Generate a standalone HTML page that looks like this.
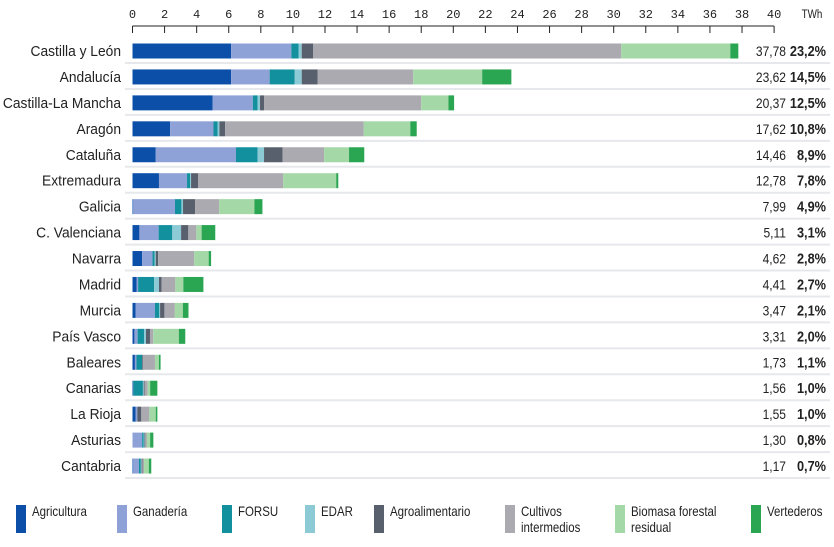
<!DOCTYPE html>
<html><head><meta charset="utf-8"><style>
body{margin:0;background:#fff;width:834px;height:547px;overflow:hidden;font-family:"Liberation Sans",sans-serif;}
svg{display:block}
</style></head><body>
<svg id="chart" width="834" height="547" xmlns="http://www.w3.org/2000/svg"></svg>
<script>
const regions=["Castilla y León","Andalucía","Castilla-La Mancha","Aragón","Cataluña","Extremadura","Galicia","C. Valenciana","Navarra","Madrid","Murcia","País Vasco","Baleares","Canarias","La Rioja","Asturias","Cantabria"];
const totals=["37,78","23,62","20,37","17,62","14,46","12,78","7,99","5,11","4,62","4,41","3,47","3,31","1,73","1,56","1,55","1,30","1,17"];
const shares=["23,2%","14,5%","12,5%","10,8%","8,9%","7,8%","4,9%","3,1%","2,8%","2,7%","2,1%","2,0%","1,1%","1,0%","1,0%","0,8%","0,7%"];
const seriesNames=["Agricultura","Ganadería","FORSU","EDAR","Agroalimentario","Cultivos intermedios","Biomasa forestal residual","Vertederos"];
const agricultura=[6.15,6.15,5.0,2.35,1.45,1.65,0.05,0.43,0.6,0.25,0.2,0.12,0.15,0.05,0.2,0,0.05];
const ganaderia=[3.75,2.4,2.5,2.7,5.0,1.75,2.6,1.2,0.65,0.1,1.2,0.2,0.1,0,0.1,0.6,0.35];
const forsu=[0.45,1.55,0.3,0.25,1.35,0.2,0.4,0.85,0.12,1.0,0.27,0.4,0.35,0.6,0,0.1,0.12];
const edar=[0.2,0.45,0.15,0.12,0.4,0.05,0.1,0.55,0.08,0.3,0.05,0.12,0,0.05,0,0.05,0.05];
const agroalimentario=[0.72,1.0,0.25,0.35,1.15,0.45,0.75,0.45,0.15,0.17,0.27,0.25,0.05,0.05,0.25,0.05,0.05];
const cultivos=[19.2,5.95,9.8,8.65,2.6,5.3,1.5,0.5,2.25,0.85,0.65,0.2,0.75,0.2,0.5,0.1,0.1];
const biomasa=[6.8,4.3,1.7,2.9,1.55,3.3,2.2,0.33,0.9,0.5,0.5,1.6,0.25,0.15,0.4,0.2,0.3];
const vertederos=[0.5,1.82,0.35,0.4,0.95,0.13,0.5,0.85,0.15,1.25,0.35,0.4,0.1,0.45,0.1,0.2,0.15];
const ticks=[0,2,4,6,8,10,12,14,16,18,20,22,24,26,28,30,32,34,36,38,40];
const colors=["#0b4fa8","#8fa2d8","#12909d","#8ccad6","#59606d","#aaaab0","#a4d8a6","#2aa552"];
const series=[agricultura,ganaderia,forsu,edar,agroalimentario,cultivos,biomasa,vertederos];

const NS="http://www.w3.org/2000/svg";
const svg=document.getElementById('chart');
const x0=132.5,pxu=16.04,row0=51,rowH=25.94,barH=15;
const xs=v=>x0+v*pxu;
const ys=i=>row0+i*rowH;
function mk(tag,attrs,parent){const e=document.createElementNS(NS,tag);for(const k in attrs)e.setAttribute(k,attrs[k]);(parent||svg).appendChild(e);return e;}
function ctext(x,y,str,attrs,parent,sx){
  const g=mk('g',{transform:`translate(${x},${y}) scale(${sx||0.82},1)`},parent);
  const t=mk('text',Object.assign({x:0,y:0,fill:'#222'},attrs),g);
  t.textContent=str;
  return g;
}

const axis=mk('g',{});


mk('line',{x1:xs(0),x2:xs(40),y1:26,y2:26,stroke:'#222','stroke-width':1},axis);
ticks.forEach(t=>{
  const tk=mk('line',{x1:xs(t),x2:xs(t),y1:26,y2:33,stroke:'#222','stroke-width':1},axis);
  
  
  const tl=mk('text',{x:xs(t),y:18,'text-anchor':'middle','font-family':'"Liberation Mono",monospace','font-size':12,fill:'#222'},axis);
  tl.textContent=t;
  
  
});
const unit=ctext(812,18,'TWh',{'text-anchor':'middle','font-size':12});



regions.forEach((r,i)=>{
  const cy=ys(i);
  const sep=mk('line',{x1:125,x2:830,y1:cy+12,y2:cy+12,stroke:'#e6e8ec','stroke-width':2});
  
  
  const lab=ctext(121,cy+5,r,{'text-anchor':'end','font-size':15},null,0.92);
  
  
  let acc=0;
  series.forEach((s,k)=>{
    const v=s[i];
    if(v>0){
      const b=mk('rect',{x:xs(acc),y:cy-barH/2,width:v*pxu,height:barH,fill:colors[k]});
      
      
    }
    acc+=v;
  });
  const tv=ctext(786,cy+5,totals[i],{'text-anchor':'end','font-size':14},null,0.86);
  
  
  const sh=ctext(826,cy+5,shares[i],{'text-anchor':'end','font-size':15,'font-weight':'bold'},null,0.85);
  
  
});

const legX=[16,117,222,305,374,505,615,751];
const legLines=[["Agricultura"],["Ganadería"],["FORSU"],["EDAR"],["Agroalimentario"],["Cultivos","intermedios"],["Biomasa forestal","residual"],["Vertederos"]];
legX.forEach((lx,k)=>{
  const g=mk('g',{});
  
  
  mk('rect',{x:lx,y:505,width:10,height:28,fill:colors[k]},g);
  legLines[k].forEach((ln,j)=>{
    ctext(lx+16,516+j*16,ln,{'font-size':14},g);
  });
});
</script>
</body></html>
